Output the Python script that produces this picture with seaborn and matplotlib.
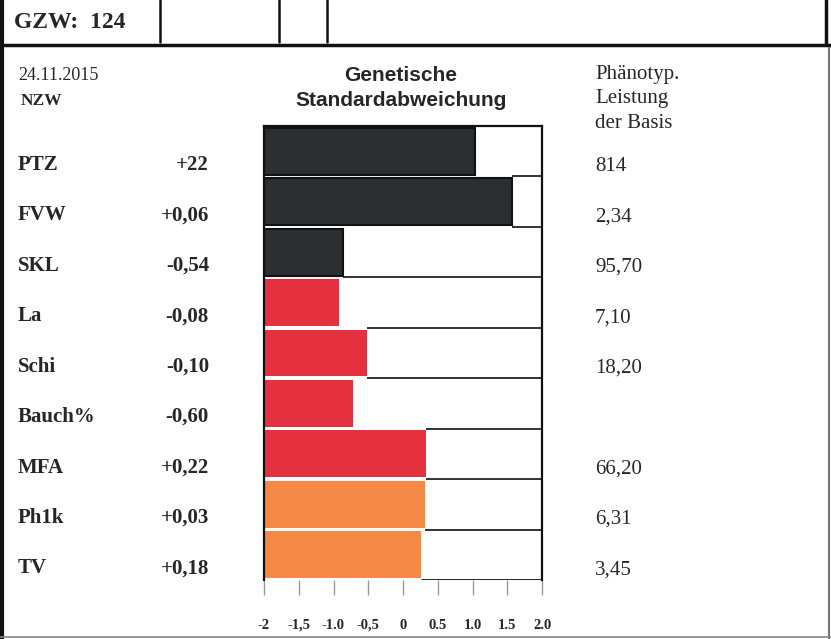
import numpy as np
import pandas as pd
import matplotlib
matplotlib.use('Agg')
import matplotlib.pyplot as plt
import matplotlib.transforms as mtransforms
import seaborn as sns

# data
traits = ['PTZ', 'FVW', 'SKL', 'La', 'Schi', 'Bauch%', 'MFA', 'Ph1k', 'TV']
zw_text = ['+22', '+0,06', '-0,54', '-0,08', '-0,10', '-0,60', '+0,22', '+0,03', '+0,18']
sd_values = [1.04, 1.57, -0.86, -0.92, -0.52, -0.72, 0.33, 0.32, 0.26]
basis_text = ['814', '2,34', '95,70', '7,10', '18,20', '', '66,20', '6,31', '3,45']
bar_colors = ['#2b2f31'] * 3 + ['#e5303f'] * 4 + ['#f48a45'] * 2
tick_vals = [-2, -1.5, -1.0, -0.5, 0, 0.5, 1.0, 1.5, 2.0]
tick_labels = ['-2', '-1,5', '-1.0', '-0,5', '0', '0.5', '1.0', '1.5', '2.0']
x_min, x_max = -2, 2

df = pd.DataFrame({'trait': traits, 'sd': sd_values})
df['span'] = df['sd'] - x_min   # bars grow from the left end of the scale

sns.set_style('white')
serif = ['Liberation Serif', 'DejaVu Serif']
sans = ['Liberation Sans', 'DejaVu Sans']

fig = plt.figure(figsize=(8.31, 6.39), dpi=100)
ax = fig.add_axes([264 / 831, 1 - 580 / 639, (542 - 264) / 831, (580 - 126) / 639])

sns.barplot(data=df, y='trait', x='span', hue='trait', palette=bar_colors,
            legend=False, orient='h', width=0.93, left=x_min, saturation=1,
            ax=ax, linewidth=0)
for i, p in enumerate(ax.patches):
    if i < 3:
        p.set_edgecolor('#111111')
        p.set_linewidth(1.5)

# row separators from the end of the longer bar to the right border
n = len(traits)
for i in range(n - 1):
    ax.hlines(i + 0.5, max(sd_values[i], sd_values[i + 1]), x_max,
              color='#222222', lw=1.3, zorder=0)
ax.hlines(n - 0.5, sd_values[-1], x_max, color='#111111', lw=2.0, zorder=3)

ax.set_xlim(x_min, x_max)
ax.set_ylim(n - 0.5, -0.5)
ax.set_xlabel('')
ax.set_ylabel('')
ax.set_yticks([])
ax.set_xticks(tick_vals)
ax.set_xticklabels(tick_labels, family=serif, fontweight='bold', fontsize=10.5)
ax.tick_params(axis='x', direction='out', length=11, width=1, color='#999999',
               pad=17, bottom=True)
for s in ['left', 'right', 'top']:
    ax.spines[s].set_color('#111111')
    ax.spines[s].set_linewidth(1.6)
ax.spines['bottom'].set_visible(False)
ax.set_facecolor('white')

# text columns beside the bars
tr = mtransforms.blended_transform_factory(fig.transFigure, ax.transData)
for i in range(n):
    fig.text(18 / 831, i + 0.27, traits[i], transform=tr, family=serif,
             fontweight='bold', fontsize=15, va='center', ha='left')
    fig.text(209 / 831, i + 0.27, zw_text[i], transform=tr, family=serif,
             fontweight='bold', fontsize=15, va='center', ha='right')
    fig.text(595 / 831, i + 0.3, basis_text[i], transform=tr, family=serif,
             fontsize=15, va='center', ha='left')

# header texts
fig.text(18 / 831, 1 - 75 / 639, '24.11.2015', family=serif, fontsize=13,
         va='center', ha='left')
fig.text(21 / 831, 1 - 101 / 639, 'NZW', family=serif, fontweight='bold',
         fontsize=12.5, va='center', ha='left')
fig.text(401 / 831, 1 - 88 / 639, 'Genetische\nStandardabweichung', family=sans,
         fontweight='bold', fontsize=15, va='center', ha='center', linespacing=1.4)
fig.text(595 / 831, 1 - 99 / 639, 'Phänotyp.\nLeistung\nder Basis', family=serif,
         fontsize=15, va='center', ha='left', linespacing=1.42)
fig.text(14 / 831, 1 - 22 / 639, 'GZW:  124', family=serif, fontweight='bold',
         fontsize=17, va='center', ha='left')

# form frame
def fline(x0, y0, x1, y1, lw=1.5, color='#111111'):
    fig.add_artist(plt.Line2D([x0 / 831, x1 / 831], [1 - y0 / 639, 1 - y1 / 639],
                              color=color, lw=lw))

fline(2, 0, 2, 639, lw=3)
fline(826, 0, 826, 44, lw=2.5)
fline(829, 48, 829, 639, lw=1.5, color='#777777')
fline(0, 45, 831, 45, lw=2.5)
fline(0, 637, 831, 637, lw=1.2, color='#888888')
fline(160, 0, 160, 42, lw=1.8)
fline(279, 0, 279, 42, lw=1.8)
fline(327, 0, 327, 42, lw=1.8)

fig.savefig('out.png', dpi=100)
